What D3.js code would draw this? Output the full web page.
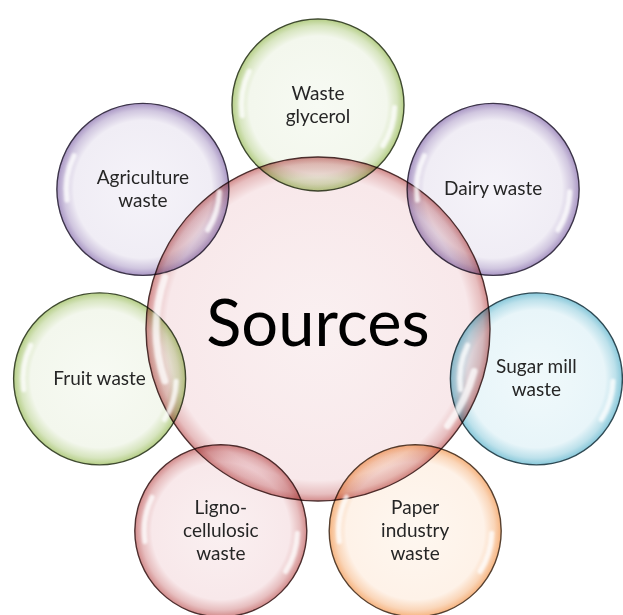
<!DOCTYPE html>
<html>
<head>
<meta charset="utf-8">
<script src="https://cdn.jsdelivr.net/npm/d3@7"></script>
<style>
  html, body { margin: 0; padding: 0; background: #fff; }
  svg { display: block; }
  .label { font-family: Lato, "Open Sans", sans-serif; }
</style>
</head>
<body>
<div id="chart"></div>
<script>

// === Data === //

var centerLabel = 'Sources';
var sources = ['Waste glycerol', 'Dairy waste', 'Sugar mill waste', 'Paper industry waste',
	'Ligno-cellulosic waste', 'Fruit waste', 'Agriculture waste'];
var sourceLines = [['Waste', 'glycerol'], ['Dairy waste'], ['Sugar mill', 'waste'],
	['Paper', 'industry', 'waste'], ['Ligno-', 'cellulosic', 'waste'], ['Fruit waste'], ['Agriculture', 'waste']];
var sourceTheme = ['green', 'purple', 'blue', 'orange', 'red', 'green', 'purple'];

// colour themes (office-ish bubble tints)
var themes = ['red', 'green', 'purple', 'blue', 'orange'];
var themeLight = ['#f8e8ea', '#f3f7ed', '#f0edf5', '#e8f5f9', '#fef2e8'];
var themeRim = ['#d28b8b', '#b5ce86', '#a996c4', '#88c8da', '#f6b480'];
var themeLine = ['#4e2e2e', '#3f4a30', '#3c3449', '#2f4a54', '#57402f'];


// === Globals === //

var width = 623, height = 615;
var cx = 318, cy = 329;
var hubR = 172, ringR = 224, nodeR = 86;

var light = d3.scaleOrdinal().domain(themes).range(themeLight);
var rim = d3.scaleOrdinal().domain(themes).range(themeRim);
var line = d3.scaleOrdinal().domain(themes).range(themeLine);

var angle = d3.scaleLinear().domain([0, sources.length]).range([-Math.PI / 2, 3 * Math.PI / 2]);

var nodes = sources.map(function(d, i) {
	return {
		name: d,
		lines: sourceLines[i],
		theme: sourceTheme[i],
		x: cx + ringR * Math.cos(angle(i)),
		y: cy + ringR * Math.sin(angle(i)),
		r: nodeR
	};
});

var hub = { name: centerLabel, theme: 'red', x: cx, y: cy, r: hubR };


// === Set up svg === //

var svg = d3.select('#chart').append('svg')
	.attr('width', width)
	.attr('height', height);

var defs = svg.append('defs');

function makeGradient(id, theme, inner) {

	var g = defs.append('radialGradient').attr('id', id);
	g.append('stop').attr('offset', 0).attr('stop-color', d3.interpolateRgb(light(theme), '#fff')(0.35));
	g.append('stop').attr('offset', inner).attr('stop-color', light(theme));
	g.append('stop').attr('offset', (inner + 1) / 2 + 0.02).attr('stop-color', d3.interpolateRgb(light(theme), rim(theme))(0.45));
	g.append('stop').attr('offset', 1).attr('stop-color', rim(theme));

} // makeGradient()

themes.forEach(function(t) {
	makeGradient('node-' + t, t, 0.8);
});
makeGradient('hub-red', 'red', 0.88);

defs.append('filter').attr('id', 'soft')
	.attr('x', '-20%').attr('y', '-20%').attr('width', '140%').attr('height', '140%')
	.append('feGaussianBlur').attr('stdDeviation', 1.3);


// === Circles === //

svg.append('circle')
	.attr('class', 'hub')
	.attr('cx', hub.x)
	.attr('cy', hub.y)
	.attr('r', hub.r)
	.attr('fill', 'url(#hub-red)')
	.attr('stroke', line('red'))
	.attr('stroke-width', 1.4);

svg.append('g').attr('class', 'nodes')
	.selectAll('circle')
	.data(nodes)
	.join('circle')
	.attr('cx', function(d) { return d.x; })
	.attr('cy', function(d) { return d.y; })
	.attr('r', function(d) { return d.r; })
	.attr('fill', function(d) { return 'url(#node-' + d.theme + ')'; })
	.attr('stroke', function(d) { return line(d.theme); })
	.attr('stroke-width', 1.4)
	.style('mix-blend-mode', 'multiply');


// === Shine (white highlights) === //

var shineNode = [[-100, -62], [90, 124]];
var shineHub = [[-110, -70], [104, 128]];

function addShine(d, spans, inner, outer) {

	var arc = d3.arc()
		.innerRadius(d.r * inner)
		.outerRadius(d.r * outer)
		.cornerRadius(d.r * (outer - inner) / 2);

	spans.forEach(function(s) {
		shine.append('path')
			.attr('transform', 'translate(' + d.x + ',' + d.y + ')')
			.attr('d', arc({ startAngle: s[0] * Math.PI / 180, endAngle: s[1] * Math.PI / 180 }))
			.attr('fill', '#fff')
			.attr('opacity', 0.75)
			.attr('filter', 'url(#soft)');
	});

} // addShine()

var shine = svg.append('g').attr('class', 'shine');
addShine(hub, shineHub, 0.92, 0.96);
nodes.forEach(function(d) { addShine(d, shineNode, 0.86, 0.92); });


// === Labels === //

svg.append('text')
	.attr('class', 'label')
	.attr('x', hub.x)
	.attr('y', hub.y + 17)
	.attr('text-anchor', 'middle')
	.attr('font-size', 65)
	.attr('fill', '#000')
	.text(hub.name);

var lineH = 23;

svg.append('g').attr('class', 'labels')
	.selectAll('text')
	.data(nodes)
	.join('text')
	.attr('class', 'label')
	.attr('text-anchor', 'middle')
	.attr('font-size', 19)
	.attr('fill', '#262626')
	.each(function(d) {
		var t = d3.select(this);
		var n = d.lines.length;
		d.lines.forEach(function(l, i) {
			t.append('tspan')
				.attr('x', d.x)
				.attr('y', d.y + (i - (n - 1) / 2) * lineH + 6)
				.text(l);
		});
	});

</script>
</body>
</html>
